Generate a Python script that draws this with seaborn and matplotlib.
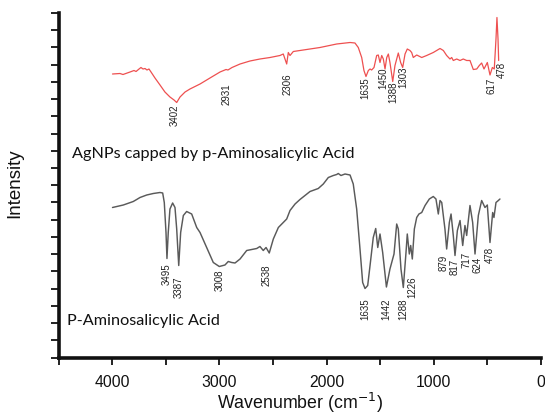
import numpy as np
import pandas as pd
import matplotlib
matplotlib.use("Agg")
import matplotlib.pyplot as plt
import seaborn as sns

# ---------------- data ----------------
agnp_wn = [4000, 3930, 3902, 3836, 3799, 3780, 3752, 3734, 3715, 3696, 3678, 3659, 3640,
           3603, 3556, 3510, 3463, 3425, 3400, 3369, 3322, 3276, 3182, 3089, 2995, 2939,
           2921, 2883, 2808, 2715, 2622, 2528, 2435, 2404, 2372, 2357, 2341, 2310, 2217,
           2061, 1905, 1780, 1734, 1703, 1671, 1650, 1631, 1609, 1593, 1578, 1556, 1531,
           1516, 1500, 1484, 1469, 1453, 1437, 1422, 1407, 1381, 1360, 1329, 1307, 1288,
           1266, 1245, 1220, 1204, 1189, 1157, 1110, 1064, 1002, 939, 908, 877, 846, 830,
           815, 783, 752, 722, 690, 659, 628, 596, 572, 550, 528, 497, 472, 450, 432, 416,
           407, 397, 391]
agnp_int = [283.5, 284, 283, 285.5, 287, 286, 288.5, 290, 288.5, 289, 287.5, 288.5, 285.5,
            279.5, 272.5, 265.5, 260.5, 257.5, 255, 260.5, 265.5, 268.5, 273.5, 279.5, 285.5, 288,
            287.5, 290, 293.5, 296.5, 298.5, 300, 302, 303.5, 293.5, 305, 302, 306, 307.5,
            310, 313.5, 315, 314.5, 310, 300, 287, 281, 287, 288.5, 287.5, 290, 302,
            302.5, 295, 302, 298.5, 288.5, 300, 303.5, 295, 276, 292, 304.5, 295, 290,
            303.5, 308.5, 307, 305, 300, 302.5, 300, 302, 305, 309, 307, 302, 298.5, 300,
            297, 298.5, 297, 298.5, 297, 297, 288, 288.5, 292, 294.5, 288.5, 295, 282.5, 290, 288.5, 318.5,
            340, 318.5, 297]

pas_wn = [4000, 3899, 3806, 3774, 3743, 3680, 3619, 3556, 3531, 3516, 3500, 3491, 3479,
          3463, 3438, 3416, 3400, 3381, 3363, 3338, 3307, 3260, 3213, 3182, 3120, 3058,
          3002, 2949, 2918, 2886, 2855, 2808, 2746, 2652, 2622, 2591, 2565, 2535, 2497,
          2450, 2404, 2372, 2341, 2294, 2248, 2154, 2077, 2030, 1983, 1936, 1905, 1890,
          1865, 1827, 1780, 1750, 1718, 1687, 1662, 1640, 1615, 1593, 1563, 1540, 1521,
          1500, 1475, 1440, 1407, 1369, 1344, 1329, 1304, 1282, 1257, 1245, 1226, 1213,
          1198, 1179, 1157, 1136, 1110, 1079, 1039, 1002, 977, 955, 939, 923, 893, 877,
          852, 836, 815, 799, 777, 752, 727, 706, 690, 659, 634, 612, 581, 550, 519, 497,
          472, 447, 435, 416, 394, 379]
pas_int = [150, 152.5, 156, 158, 160, 162.5, 164, 165, 164.5, 155, 125, 99, 125,
           148.5, 154.5, 150, 128.5, 92, 125, 142, 146, 143.5, 130, 125, 110, 95,
           91, 92.5, 96, 95, 94.5, 98.5, 107, 109, 111, 107, 110, 104.5, 118.5,
           130, 135, 138.5, 147, 153.5, 158, 166, 169, 173.5, 180, 182, 183, 184,
           182, 183.5, 182.5, 173.5, 148.5, 108.5, 75, 69, 72, 92, 120, 129, 110,
           123.5, 105, 70.5, 88.5, 103.5, 133.5, 128.5, 88.5, 70, 105, 123.5, 103.5, 112,
           98.5, 128.5, 140, 143.5, 145, 152, 158.5, 161, 158.5, 143.5, 157, 155, 128.5, 108.5,
           135, 143.5, 122, 102, 127, 137, 112, 132, 122, 152, 135, 103.5, 142, 157, 150, 152.5,
           115, 145, 140, 155, 157, 158.5]

agnp_peak_text = ["3402", "2931", "2306", "1635", "1450", "1388", "1303", "617", "478"]
agnp_peak_wn = [3415, 2933, 2366, 1640, 1469, 1376, 1282, 456, 363]
agnp_peak_y = [254, 275.5, 285.5, 281.5, 290.5, 276.5, 291.5, 280.5, 296.5]

pas_peak_text = ["3495", "3387", "3008", "2538", "1635", "1442", "1288", "1226",
                 "879", "817", "717", "624", "478"]
pas_peak_wn = [3494, 3385, 2995, 2559, 1640, 1437, 1282, 1194, 902, 799, 696, 593, 472]
pas_peak_y = [95, 82, 88.5, 93.5, 60, 60, 60, 82, 103.5, 100, 107, 102, 112]

x_tick_values = [4000, 3000, 2000, 1000, 0]
x_tick_labels = ["4000", "3000", "2000", "1000", "0"]

# ---------------- figure ----------------
sns.set_style("ticks")
plt.rcParams['font.family'] = ['Liberation Sans', 'DejaVu Sans']

fig = plt.figure(figsize=(5.45, 4.14), dpi=100)
ax = fig.add_axes([59 / 545, 1 - 358.5 / 414, 481.5 / 545, 344.5 / 414])

df_a = pd.DataFrame({"wn": agnp_wn, "I": agnp_int})
df_p = pd.DataFrame({"wn": pas_wn, "I": pas_int})
sns.lineplot(data=df_a, x="wn", y="I", sort=False, estimator=None, ax=ax,
             color="#ee5050", lw=0.9)
sns.lineplot(data=df_p, x="wn", y="I", sort=False, estimator=None, ax=ax,
             color="#5a5a5a", lw=1.05)
for ln in ax.lines:
    ln.set_solid_joinstyle("round")

for t, x, y in zip(agnp_peak_text, agnp_peak_wn, agnp_peak_y):
    ax.text(x, y, t, rotation=90, ha="center", va="top", fontsize=7, color="#222222")
for t, x, y in zip(pas_peak_text, pas_peak_wn, pas_peak_y):
    ax.text(x, y, t, rotation=90, ha="center", va="top", fontsize=7, color="#222222")

ax.text(4381, 204.5, "AgNPs capped by p-Aminosalicylic Acid", ha="left", va="center",
        fontsize=11.7, family=["Lato", "DejaVu Sans"], color="#111111")
ax.text(4428, 37, "P-Aminosalicylic Acid", ha="left", va="center",
        fontsize=11.7, family=["Lato", "DejaVu Sans"], color="#111111")

ax.set_xlim(4500, 0)
ax.set_ylim(0, 344.5)
all_x = np.arange(4500, -1, -500)
ax.set_xticks(all_x)
ax.set_xticklabels([x_tick_labels[x_tick_values.index(v)] if v in x_tick_values else ""
                    for v in all_x])
ax.set_yticks(np.linspace(0, 344.5, 21))
ax.set_yticklabels([])
ax.tick_params(axis="x", direction="out", length=5, width=1.3, labelsize=11.3, pad=7,
               colors="#111111")
ax.tick_params(axis="y", direction="out", length=6, width=1.3, colors="#111111")
ax.set_xlabel("")
ax.set_ylabel("")
for s in ["top", "right"]:
    ax.spines[s].set_visible(False)
for s in ["left", "bottom"]:
    ax.spines[s].set_linewidth(2.6)
    ax.spines[s].set_color("#111111")

fig.text(15 / 545, 1 - 183 / 414, "Intensity", rotation=90, ha="center", va="center",
         fontsize=13.5, color="#111111")
fig.text(300 / 545, 1 - 403 / 414, "Wavenumber (cm$^{-1}$)", ha="center", va="center",
         fontsize=12.8, color="#111111")

fig.savefig("out.png", dpi=100)
